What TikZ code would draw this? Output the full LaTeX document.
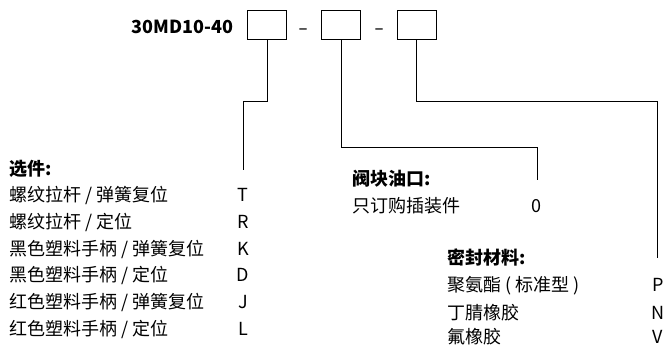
\documentclass[tikz,border=0pt]{standalone}
\usepackage{fontspec}
\setmainfont{Noto Sans CJK SC}
\begin{document}
\begin{tikzpicture}[x=1pt,y=-1pt,
  txt/.style={inner sep=0pt,anchor=base west,font=\fontsize{18}{20}\selectfont},
  hdr/.style={txt,font=\fontsize{18}{20}\selectfont\bfseries},
  code/.style={inner sep=0pt,anchor=base,font=\fontsize{18}{20}\selectfont},
  slot/.style={draw,line width=1pt,minimum width=39pt,minimum height=29pt,inner sep=0pt},
  conn/.style={draw,line width=1pt}]
\useasboundingbox (0,0) rectangle (666,345);
% code line
\node[hdr] (title) at (131.5,33.3) {30MD10-40};
\node[slot] (b1) at (267.2,25.5) {};
\node[slot] (b2) at (341.2,25.5) {};
\node[slot] (b3) at (416.7,25.5) {};
\node[code] (d1) at (303.6,34.3) {\scalebox{1.6}[1]{-}};
\node[code] (d2) at (379.6,34.3) {\scalebox{1.6}[1]{-}};
% connector ends
\coordinate (e1) at (243.3,170);
\coordinate (e2) at (537,179.5);
\coordinate (e3) at (657.5,258);
\draw[conn] (b1.south) -- (b1.south |- 0,101.7) -| (e1);
\draw[conn] (b2.south) -- (b2.south |- 0,147.3) -| (e2);
\draw[conn] (b3.south) -- (b3.south |- 0,101.7) -| (e3);
% group 1
\node[hdr] (g1) at (9,175.1) {选件:};
\node[txt] (g1a) at (9,201.8) {螺纹拉杆 / 弹簧复位};
\node[txt] (g1b) at (9,228.5) {螺纹拉杆 / 定位};
\node[txt] (g1c) at (9,255.1) {黑色塑料手柄 / 弹簧复位};
\node[txt] (g1d) at (9,281.8) {黑色塑料手柄 / 定位};
\node[txt] (g1e) at (9,308.5) {红色塑料手柄 / 弹簧复位};
\node[txt] (g1f) at (9,335.1) {红色塑料手柄 / 定位};
\node[code] (c1a) at (243,201.8) {T};
\node[code] (c1b) at (243,228.5) {R};
\node[code] (c1c) at (243,255.1) {K};
\node[code] (c1d) at (243,281.8) {D};
\node[code] (c1e) at (243,308.5) {J};
\node[code] (c1f) at (243,335.1) {L};
% group 2
\node[hdr] (g2) at (352.5,185.5) {阀块油口:};
\node[txt] (g2a) at (352.5,212.5) {只订购插装件};
\node[code] (c2a) at (536.7,212.5) {0};
% group 3
\node[hdr] (g3) at (447.5,264.3) {密封材料:};
\node[txt] (g3a) at (447.5,291.8) {聚氨酯 ( 标准型 )};
\node[txt] (g3b) at (447.5,319.1) {丁腈橡胶};
\node[txt] (g3c) at (447.5,343.6) {氟橡胶};
\node[code] (c3a) at (658,291.8) {P};
\node[code] (c3b) at (658,319.1) {N};
\node[code] (c3c) at (658,343.6) {V};
\end{tikzpicture}
\end{document}
